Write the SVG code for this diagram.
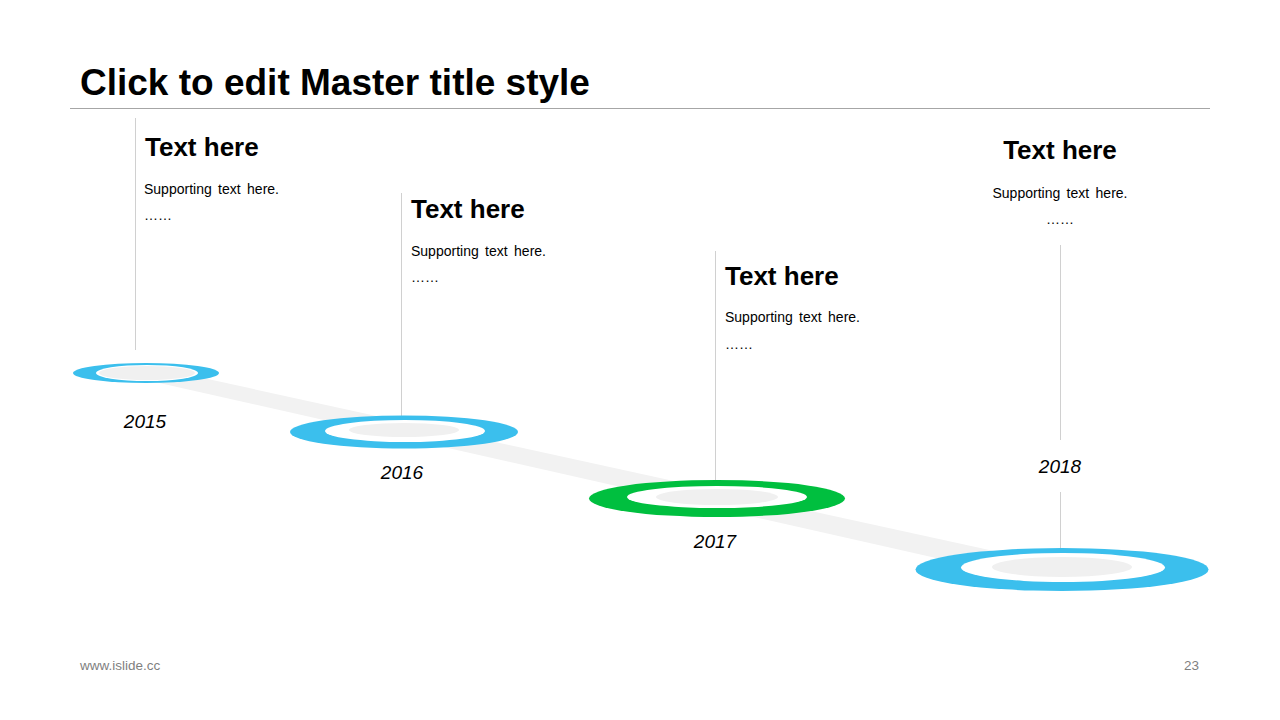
<svg xmlns="http://www.w3.org/2000/svg" width="1280" height="720" viewBox="0 0 1280 720">
<style>
.title{font-family:"Liberation Sans",Arial,sans-serif;font-weight:bold;font-size:37px;fill:#000}
.h{font-family:"Liberation Sans",Arial,sans-serif;font-weight:bold;font-size:26px;fill:#000}
.s{font-family:"Liberation Sans",Arial,sans-serif;font-size:14px;word-spacing:2.5px;fill:#000}
.yr{font-family:"Liberation Sans",Arial,sans-serif;font-style:italic;font-size:19px;fill:#000}
.ft{font-family:"Liberation Sans",Arial,sans-serif;font-size:13.5px;fill:#7f7f7f}
.vl{stroke:#d0d0d0;stroke-width:1;fill:none}
.blue{fill:#3bbfed}
.green{fill:#00bf3f}
.wh{fill:#fff}
.gr{fill:#f0f0f0}
</style>
<rect width="1280" height="720" fill="#fff"/>
<text class="title" x="80" y="95">Click to edit Master title style</text>
<line x1="70" y1="108.5" x2="1210" y2="108.5" stroke="#a6a6a6" stroke-width="1"/>
<g id="connectors">
<polygon points="146,365.5 1062,566 1062,586.5 146,380" fill="#f2f2f2"/>
<line class="vl" x1="135.5" y1="118" x2="135.5" y2="350"/>
<line class="vl" x1="401.5" y1="193" x2="401.5" y2="416"/>
<line class="vl" x1="715.5" y1="251" x2="715.5" y2="481"/>
<line class="vl" x1="1060.5" y1="245" x2="1060.5" y2="440"/>
<line class="vl" x1="1060.5" y1="492" x2="1060.5" y2="549"/>
</g>
<g id="node-2015">
<ellipse class="blue" cx="146" cy="373" rx="73" ry="10"/>
<ellipse class="wh" cx="147" cy="373" rx="51" ry="8"/>
<ellipse class="gr" cx="147" cy="373" rx="48" ry="7"/>
<text class="yr" x="145" y="428" text-anchor="middle">2015</text>
<text class="h" x="145" y="156">Text here</text>
<text class="s" x="144" y="194">Supporting text here.</text>
<text class="s" x="144" y="220">……</text>
</g>
<g id="node-2016">
<ellipse class="blue" cx="404" cy="432" rx="114" ry="16.5"/>
<ellipse class="wh" cx="405" cy="431" rx="80" ry="11"/>
<ellipse class="gr" cx="404" cy="430" rx="55" ry="7"/>
<text class="yr" x="402" y="479" text-anchor="middle">2016</text>
<text class="h" x="411" y="218">Text here</text>
<text class="s" x="411" y="256">Supporting text here.</text>
<text class="s" x="411" y="282">……</text>
</g>
<g id="node-2017">
<ellipse class="green" cx="717" cy="498.5" rx="128" ry="18.5"/>
<ellipse class="wh" cx="717" cy="497" rx="90" ry="11"/>
<ellipse class="gr" cx="717" cy="497" rx="61" ry="8"/>
<text class="yr" x="715" y="548" text-anchor="middle">2017</text>
<text class="h" x="725" y="285">Text here</text>
<text class="s" x="725" y="322">Supporting text here.</text>
<text class="s" x="725" y="349">……</text>
</g>
<g id="node-2018">
<ellipse class="blue" cx="1062" cy="569.5" rx="146.5" ry="21.5"/>
<ellipse class="wh" cx="1063" cy="567.5" rx="102" ry="14.5"/>
<ellipse class="gr" cx="1062" cy="567" rx="70" ry="10"/>
<text class="yr" x="1060" y="473" text-anchor="middle">2018</text>
<text class="h" x="1060" y="159" text-anchor="middle">Text here</text>
<text class="s" x="1060" y="198" text-anchor="middle">Supporting text here.</text>
<text class="s" x="1060" y="224" text-anchor="middle">……</text>
</g>
<text class="ft" x="80" y="670">www.islide.cc</text>
<text class="ft" x="1199" y="670" text-anchor="end">23</text>
</svg>
